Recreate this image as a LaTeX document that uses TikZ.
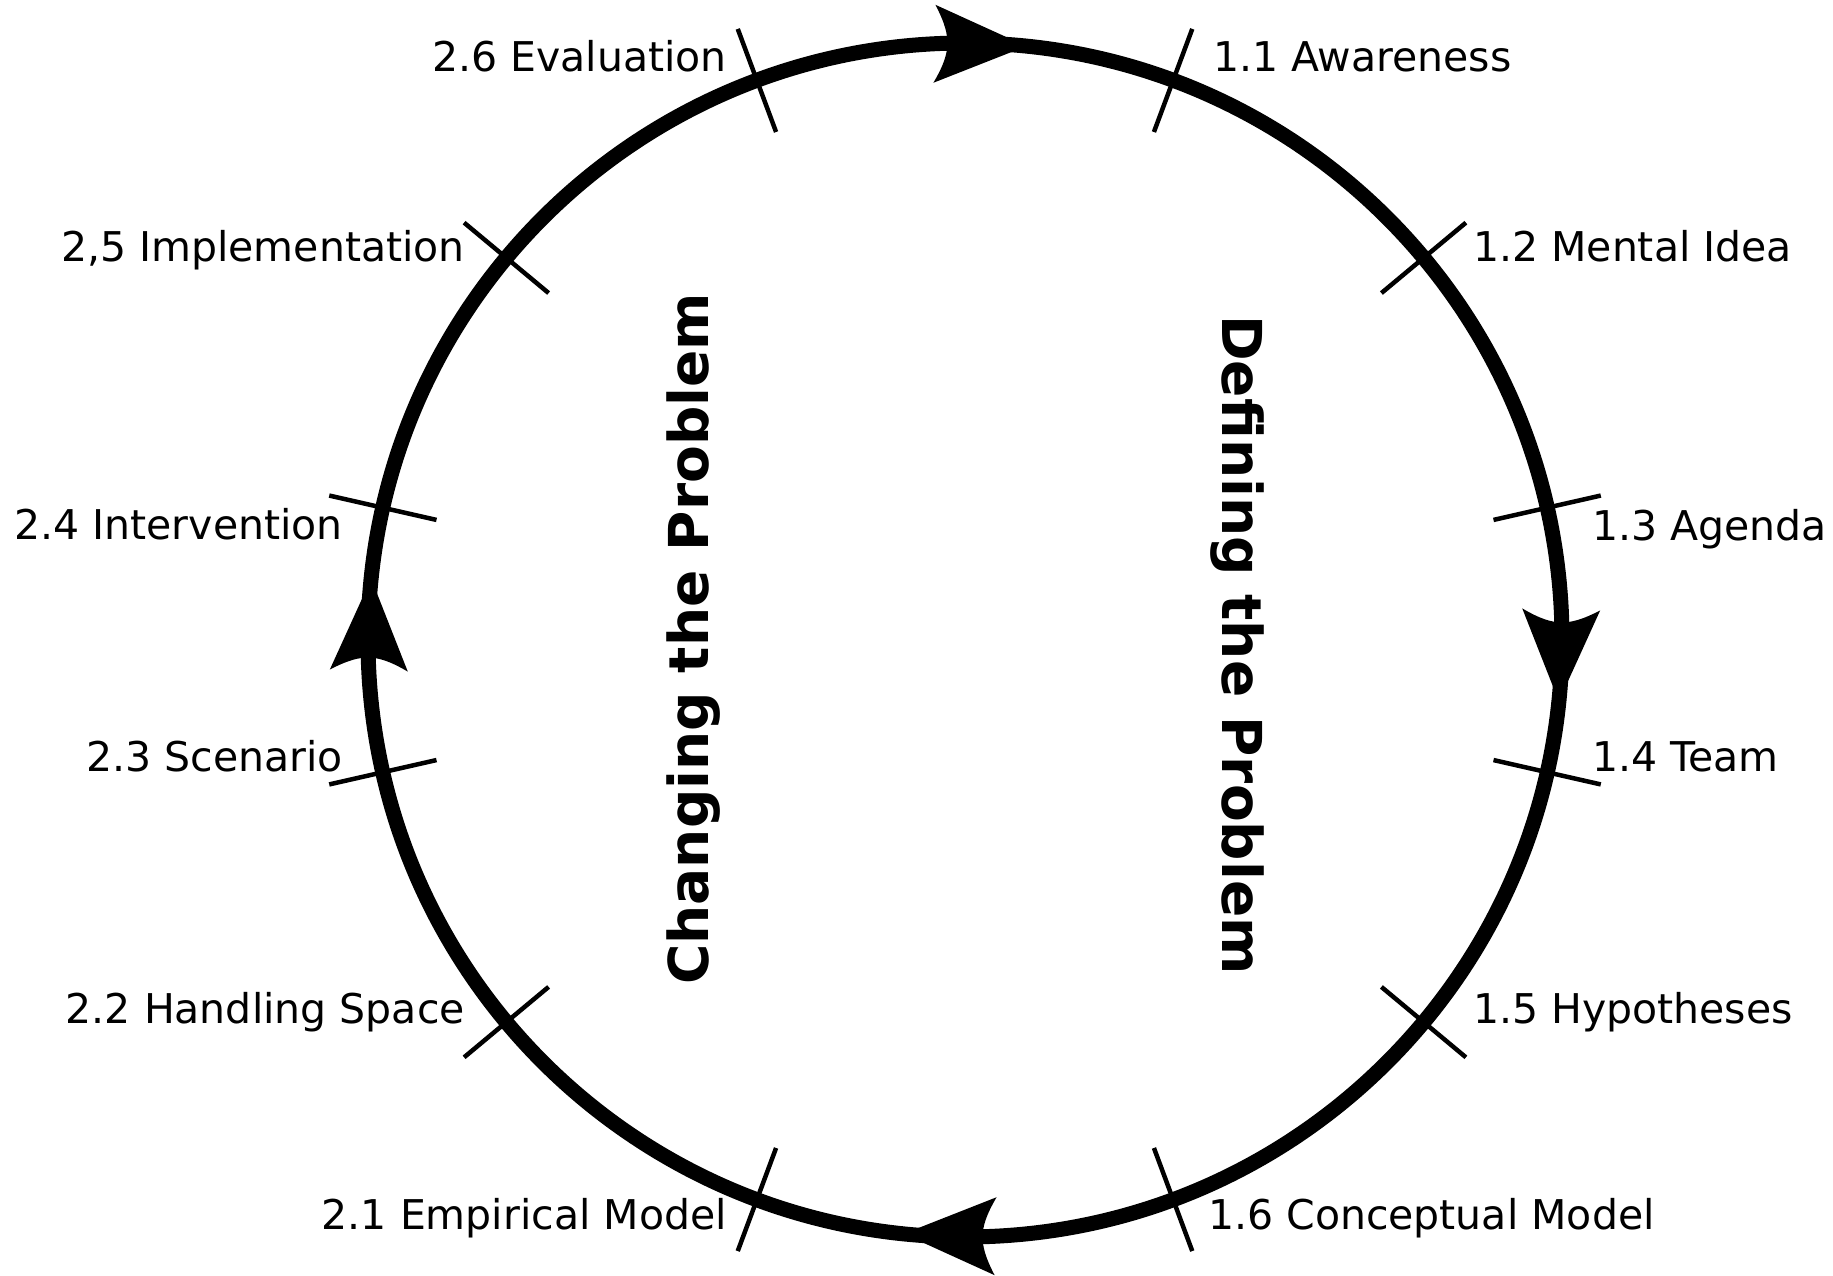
\documentclass[tikz,border=0pt]{standalone}
\usepackage{fontspec}
\setmainfont{DejaVu Sans}
\begin{document}
\begin{tikzpicture}[x=1pt,y=1pt,
  ring/.style={line width=15pt},
  tickmark/.style={line width=4.5pt},
  stagelabel/.style={font=\fontsize{41}{49}\selectfont, inner sep=0pt},
  phaselabel/.style={font=\fontsize{55}{66}\selectfont\bfseries, inner sep=0pt, anchor=base},
  headshape/.style={fill=black}
]
\useasboundingbox (0,0) rectangle (1833,1276);

% the cycle
\coordinate (c) at (965,636);
\draw[ring] (c) circle[radius=597];

% stage boundaries
\foreach \a in {69.6, 39.8, 12.8, -12.8, -39.8, -69.6, 110.4, 140.2, 167.2, 192.8, 219.8, 249.6}
  \draw[tickmark, shift={(c)}] (\a:542) -- (\a:652);

% clockwise direction heads (tip at the origin, pointing along +x)
\foreach \a in {84.1, -5.9, -95.9, 174.1}
  \fill[headshape, shift={(c)}, rotate=\a, shift={(597,0)}, rotate=-85.59]
    (0,0) -- (-92,39) .. controls (-82,21) and (-79,10) .. (-79,0)
          .. controls (-79,-10) and (-82,-21) .. (-92,-39) -- cycle;

% stages of defining the problem
\node[stagelabel, anchor=base west] (s11) at (1213,1204) {1.1 Awareness};
\node[stagelabel, anchor=base west] (s12) at (1473,1014) {1.2 Mental Idea};
\node[stagelabel, anchor=base west] (s13) at (1592,735) {1.3 Agenda};
\node[stagelabel, anchor=base west] (s14) at (1592,504) {1.4 Team};
\node[stagelabel, anchor=base west] (s15) at (1473,252) {1.5 Hypotheses};
\node[stagelabel, anchor=base west] (s16) at (1208,46) {1.6 Conceptual Model};

% stages of changing the problem
\node[stagelabel, anchor=base east] (s21) at (727,46) {2.1 Empirical Model};
\node[stagelabel, anchor=base east] (s22) at (465,252) {2.2 Handling Space};
\node[stagelabel, anchor=base east] (s23) at (343,504) {2.3 Scenario};
\node[stagelabel, anchor=base east] (s24) at (343,736) {2.4 Intervention};
\node[stagelabel, anchor=base east] (s25) at (465,1014) {2,5 Implementation};
\node[stagelabel, anchor=base east] (s26) at (727,1204) {2.6 Evaluation};

% phase titles
\node[phaselabel, rotate=90] (chg) at (708,637) {Changing the Problem};
\node[phaselabel, rotate=-90] (def) at (1222,631) {Defining the Problem};
\end{tikzpicture}
\end{document}
